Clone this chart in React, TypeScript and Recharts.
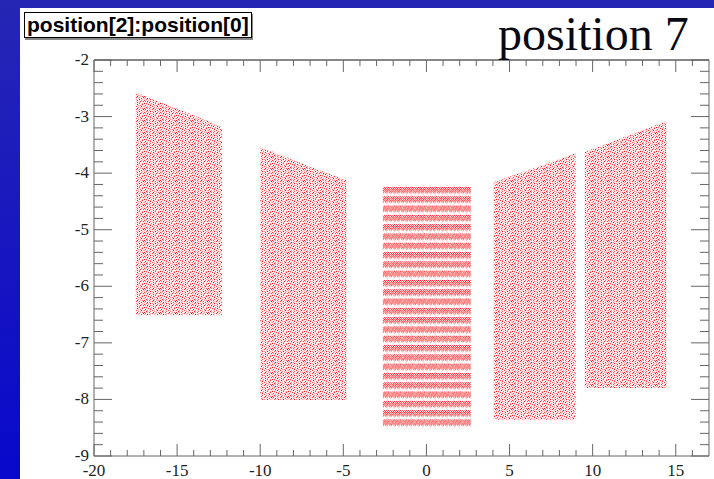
import React from "react";
import { ComposedChart, Area, XAxis, YAxis, ReferenceLine } from "recharts";

// hit areas of the five detector blocks (x = position[0], y = position[2])
const blockIds = ["b0", "b1", "b2", "b3", "b4"];
const xLeft = [-17.5, -10.0, -2.62, 4.05, 9.53];
const xRight = [-12.3, -4.8, 2.67, 8.98, 14.45];
const yTopLeft = [-2.57, -3.54, -4.22, -4.16, -3.62];
const yTopRight = [-3.18, -4.13, -4.22, -3.65, -3.08];
const yBottom = [-6.51, -8.01, -8.51, -8.36, -7.8];

const xMajorTicks = [-20, -15, -10, -5, 0, 5, 10, 15];
const yMajorTicks = [-9, -8, -7, -6, -5, -4, -3, -2];

const X_DOMAIN: [number, number] = [-20, 17];
const Y_DOMAIN: [number, number] = [-9, -2];

// frame geometry
const W = 714;
const H = 479;
const M = { top: 60, right: 5, bottom: 23, left: 94 };
const PLOT_H = H - M.top - M.bottom;
const PLOT_W = W - M.left - M.right;

// minor ticks: every 1 along x, every 0.2 along y
const xTicks: number[] = [];
for (let v = X_DOMAIN[0]; v < X_DOMAIN[1]; v += 1) xTicks.push(v);
const yTicks: number[] = [];
for (let i = 0; i <= 35; i++) yTicks.push(Math.round((Y_DOMAIN[0] + i * 0.2) * 10) / 10);

// one row per block edge; the other blocks stay null so the areas don't join
const rows = blockIds.flatMap((id, i) => [
  { x: xLeft[i], [id]: [yBottom[i], yTopLeft[i]] },
  { x: xRight[i], [id]: [yBottom[i], yTopRight[i]] },
]);

// texture tiles, one char per pixel: digit = opacity step, "." = empty
const sprayTile = [
  "8..3.6...9..2.5.",
  ".5....2.7..4...9",
  "3..9.4....1..7..",
  "..6...8.3..9..2.",
  "7...2....6...4..",
  ".4.8..5.1...8..6",
  "...2.9...7.3....",
  "9.5....4...6..3.",
  "..1.7.3..9....8.",
  ".6....8...2.5...",
  "4..3.1..6....9.2",
  "..8...5...4.1...",
];
const stripeTile = [
  "8.6.9.7.5.9.",
  ".9.7.6.8.9.7",
  "9.8.9.5.9.6.",
  ".7.9.8.6.8.9",
  "6.9.5.9.8.7.",
  ".8.6.7.9.5.8",
  "..3...2...4.",
  "............",
  "...2.....1..",
];

const tileDots = (tile: string[]) =>
  tile.flatMap((row, y) =>
    row.split("").flatMap((c, x) =>
      c === "." ? [] : [<rect key={`${x}-${y}`} x={x} y={y} width={1} height={1} fill="#ff0000" fillOpacity={(+c + 1) / 10} />]
    )
  );

const tickFont = { fontFamily: "Liberation Serif, serif", fontSize: 17, fill: "#222" };
const axisGray = "#666";

const isMajor = (v: number) => Math.abs(v - Math.round(v)) < 1e-6;

// bottom ticks point inward, with the matching top ticks mirrored on the frame
const BottomTick = (props: any) => {
  const { x, y, payload } = props;
  const major = xMajorTicks.includes(payload.value);
  const len = major ? 12 : 6;
  return (
    <g>
      <line x1={x} y1={y} x2={x} y2={y - len} stroke={axisGray} />
      <line x1={x} y1={y - PLOT_H} x2={x} y2={y - PLOT_H + len} stroke={axisGray} />
      {major && (
        <text x={x} y={y + 20} textAnchor="middle" {...tickFont}>
          {payload.value}
        </text>
      )}
    </g>
  );
};

// left ticks, mirrored on the right edge
const LeftTick = (props: any) => {
  const { x, y, payload } = props;
  const major = isMajor(payload.value) && yMajorTicks.includes(Math.round(payload.value));
  const len = major ? 18 : 9;
  return (
    <g>
      <line x1={x} y1={y} x2={x + len} y2={y} stroke={axisGray} />
      <line x1={x + PLOT_W} y1={y} x2={x + PLOT_W - len} y2={y} stroke={axisGray} />
      {major && (
        <text x={x - 5} y={y + 5} textAnchor="end" {...tickFont}>
          {payload.value}
        </text>
      )}
    </g>
  );
};

export default function App() {
  return (
    <div
      style={{
        position: "absolute",
        left: 0,
        top: 0,
        width: W,
        height: H,
        background: "linear-gradient(180deg, #2626b4 0%, #0808cc 100%)",
        overflow: "hidden",
      }}
    >
      <div style={{ position: "absolute", left: 20, top: 8, right: 0, bottom: 0, background: "#fff" }} />
      <div style={{ position: "absolute", left: 0, top: 0 }}>
        <ComposedChart width={W} height={H} data={rows} margin={{ top: M.top, right: M.right, bottom: 0, left: 0 }}>
          <defs>
            <pattern id="spray" patternUnits="userSpaceOnUse" width={16} height={12}>
              <rect width={16} height={12} fill="#ff0000" fillOpacity={0.07} />
              {tileDots(sprayTile)}
            </pattern>
            <pattern id="stripes" patternUnits="userSpaceOnUse" width={12} height={9.3} y={187}>
              {tileDots(stripeTile)}
            </pattern>
          </defs>
          <XAxis
            dataKey="x"
            type="number"
            domain={X_DOMAIN}
            allowDataOverflow
            ticks={xTicks}
            interval={0}
            height={M.bottom}
            tickSize={0}
            tickMargin={0}
            tick={BottomTick}
            axisLine={{ stroke: axisGray }}
          />
          <YAxis
            type="number"
            domain={Y_DOMAIN}
            allowDataOverflow
            ticks={yTicks}
            interval={0}
            width={M.left}
            tickSize={0}
            tickMargin={0}
            tick={LeftTick}
            axisLine={{ stroke: axisGray }}
          />
          <ReferenceLine y={Y_DOMAIN[1]} stroke="#111" />
          <ReferenceLine x={X_DOMAIN[1]} stroke={axisGray} />
          {blockIds.map((id, i) => (
            <Area
              key={id}
              dataKey={id}
              type="linear"
              stroke="none"
              fill={i === 2 ? "url(#stripes)" : "url(#spray)"}
              fillOpacity={1}
              connectNulls={false}
              isAnimationActive={false}
              dot={false}
              activeDot={false}
            />
          ))}
        </ComposedChart>
      </div>
      <div
        style={{
          position: "absolute",
          left: 24,
          top: 12,
          height: 24,
          padding: "0 2px",
          border: "1px solid #000",
          boxShadow: "1px 2px 0 #888",
          background: "#fff",
          fontFamily: "Liberation Sans, Arial, sans-serif",
          fontWeight: "bold",
          fontSize: 21,
          lineHeight: "24px",
          color: "#000",
        }}
      >
        position[2]:position[0]
      </div>
      <div
        style={{
          position: "absolute",
          left: 498,
          top: 6,
          fontFamily: "Liberation Serif, serif",
          fontSize: 48,
          lineHeight: "56px",
          color: "#0a0a14",
        }}
      >
        position 7
      </div>
    </div>
  );
}
